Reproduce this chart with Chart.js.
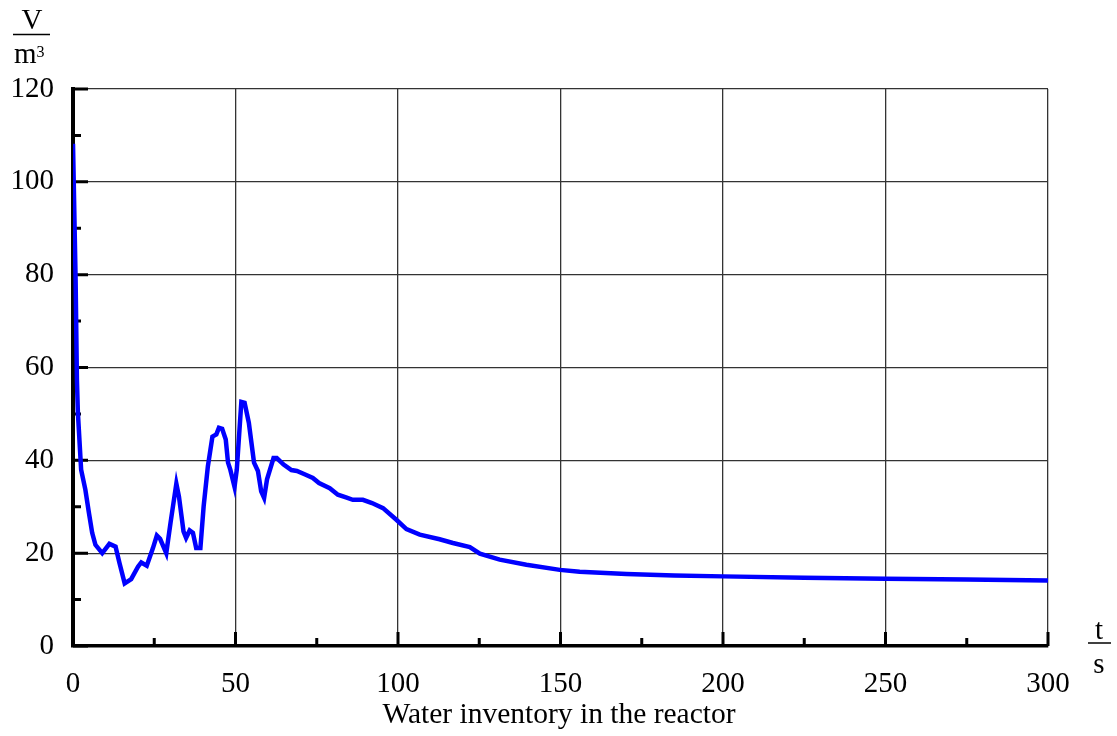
<!DOCTYPE html>
<html>
<head>
<meta charset="utf-8">
<script src="https://cdn.jsdelivr.net/npm/chart.js@4.4.1/dist/chart.umd.min.js"></script>
<style>
  html, body { margin: 0; padding: 0; background: #ffffff; }
  #wrap { width: 1117px; height: 736px; }
</style>
</head>
<body>
<div id="wrap"><canvas id="c" width="1117" height="736"></canvas></div>
<script>
// Time in seconds
const timeS = [
  0, 0.8, 1.2, 1.5, 1.8, 2.5, 3.8, 4.9, 5.9, 6.9,
  9.0, 11.2, 13.1, 14.3, 15.9, 17.9, 20.0, 21.0, 22.7, 24.6,
  25.8, 26.8, 28.7, 30.0, 31.8, 32.6, 34.0, 34.8, 35.9, 36.9,
  37.9, 39.2, 40.2, 41.5, 42.9, 44.1, 44.9, 45.9, 47.0, 47.7,
  48.4, 49.7, 50.4, 51.8, 52.8, 54.1, 55.7, 56.9, 57.9, 58.8,
  59.7, 61.7, 62.7, 64.8, 67.2, 68.9, 71.6, 73.8, 75.7, 79.0,
  81.5, 84.0, 86.1, 89.2, 92.0, 95.4, 99.5, 102.6, 106.7, 112.8,
  116.9, 122.1, 125.2, 131.3, 139.5, 149.8, 155.9, 170.3, 185, 200,
  225, 250, 275, 300
];
// Water volume in m³
const volumeM3 = [
  108.2, 79, 57.5, 50.3, 46.6, 38, 33.7, 28.7, 24.4, 21.8,
  20, 22, 21.4, 17.9, 13.5, 14.4, 17.1, 18, 17.3, 21.1,
  23.8, 23.1, 20, 26.5, 35, 32.2, 24.7, 23.3, 24.9, 24.4,
  21.1, 21.1, 30.1, 38.7, 45.1, 45.6, 47, 46.8, 44.5, 39.5,
  38, 34.3, 38, 52.6, 52.4, 48.1, 39.5, 37.7, 33.3, 31.9,
  35.9, 40.5, 40.5, 39.1, 37.9, 37.7, 36.9, 36.2, 35.1, 34,
  32.6, 32, 31.5, 31.5, 30.8, 29.7, 27.2, 25.2, 24, 23,
  22.2, 21.3, 19.9, 18.6, 17.5, 16.4, 16.0, 15.5, 15.2, 15.0,
  14.7, 14.5, 14.3, 14.1
];

// Axis ticks
const xMajorTicks = [0, 50, 100, 150, 200, 250, 300];
const xMinorTicks = [25, 75, 125, 175, 225, 275];
const yMajorTicks = [0, 20, 40, 60, 80, 100, 120];
const yMinorTicks = [10, 30, 50, 70, 90, 110];

const titleText = 'Water inventory in the reactor';
const yUnitTop = 'V';
const yUnitBottom = 'm';
const yUnitSup = '3';
const xUnitTop = 't';
const xUnitBottom = 's';

const SERIF = '"Liberation Serif", "Times New Roman", serif';

const points = timeS.map((t, i) => ({ x: t, y: volumeM3[i] }));

// Short inward tick marks on the left and bottom axes
const innerTicks = {
  id: 'innerTicks',
  beforeDatasetsDraw(chart) {
    const { ctx, chartArea, scales } = chart;
    const xs = scales.x, ys = scales.y;
    ctx.save();
    ctx.strokeStyle = '#000';
    ctx.lineWidth = 3;
    ctx.lineCap = 'butt';
    ctx.beginPath();
    yMajorTicks.forEach(v => { const p = ys.getPixelForValue(v); ctx.moveTo(chartArea.left, p); ctx.lineTo(chartArea.left + 15, p); });
    yMinorTicks.forEach(v => { const p = ys.getPixelForValue(v); ctx.moveTo(chartArea.left, p); ctx.lineTo(chartArea.left + 8, p); });
    xMajorTicks.forEach(v => { const p = xs.getPixelForValue(v); ctx.moveTo(p, chartArea.bottom); ctx.lineTo(p, chartArea.bottom - 14); });
    xMinorTicks.forEach(v => { const p = xs.getPixelForValue(v); ctx.moveTo(p, chartArea.bottom); ctx.lineTo(p, chartArea.bottom - 8); });
    ctx.stroke();
    ctx.restore();
  }
};

// Unit fractions and caption
const annotations = {
  id: 'annotations',
  afterDraw(chart) {
    const { ctx } = chart;
    ctx.save();
    ctx.fillStyle = '#000';
    ctx.strokeStyle = '#000';
    ctx.lineWidth = 1.5;
    ctx.font = '29px ' + SERIF;
    ctx.textAlign = 'center';
    ctx.textBaseline = 'alphabetic';

    // y unit: V / m³
    ctx.fillText(yUnitTop, 32, 29);
    ctx.beginPath(); ctx.moveTo(13, 34.5); ctx.lineTo(50, 34.5); ctx.stroke();
    ctx.textAlign = 'left';
    ctx.fillText(yUnitBottom, 14, 63);
    const mW = ctx.measureText(yUnitBottom).width;
    ctx.font = '16px ' + SERIF;
    ctx.fillText(yUnitSup, 14 + mW, 57);

    // x unit: t / s
    ctx.font = '29px ' + SERIF;
    ctx.textAlign = 'center';
    ctx.fillText(xUnitTop, 1099, 639);
    ctx.beginPath(); ctx.moveTo(1088, 643); ctx.lineTo(1111, 643); ctx.stroke();
    ctx.fillText(xUnitBottom, 1099, 673);

    // caption
    ctx.font = '29.5px ' + SERIF;
    ctx.fillText(titleText, 559, 723);
    ctx.restore();
  }
};

new Chart(document.getElementById('c'), {
  type: 'line',
  data: {
    datasets: [{
      data: points,
      borderColor: '#0000ff',
      borderWidth: 4.5,
      pointRadius: 0,
      tension: 0,
      fill: false
    }]
  },
  options: {
    responsive: false,
    devicePixelRatio: 1,
    animation: false,
    parsing: false,
    layout: { padding: { left: 0, top: 89, right: 69, bottom: 0 } },
    plugins: { legend: { display: false }, tooltip: { enabled: false } },
    scales: {
      x: {
        type: 'linear',
        min: 0, max: 300,
        afterBuildTicks(scale) { scale.ticks = xMajorTicks.map(v => ({ value: v })); },
        afterFit(scale) { scale.height = 90; },
        ticks: {
          color: '#000',
          padding: 21,
          maxRotation: 0,
          autoSkip: false,
          font: { family: SERIF, size: 29 }
        },
        grid: { color: '#333', lineWidth: 1.3, drawTicks: false },
        border: { display: true, color: '#000', width: 3.5 }
      },
      y: {
        type: 'linear',
        min: 0, max: 120,
        afterBuildTicks(scale) { scale.ticks = yMajorTicks.map(v => ({ value: v })); },
        afterFit(scale) { scale.width = 73; },
        ticks: {
          color: '#000',
          padding: 19,
          autoSkip: false,
          font: { family: SERIF, size: 29 }
        },
        grid: { color: '#333', lineWidth: 1.3, drawTicks: false },
        border: { display: true, color: '#000', width: 4 }
      }
    }
  },
  plugins: [innerTicks, annotations]
});
</script>
</body>
</html>
